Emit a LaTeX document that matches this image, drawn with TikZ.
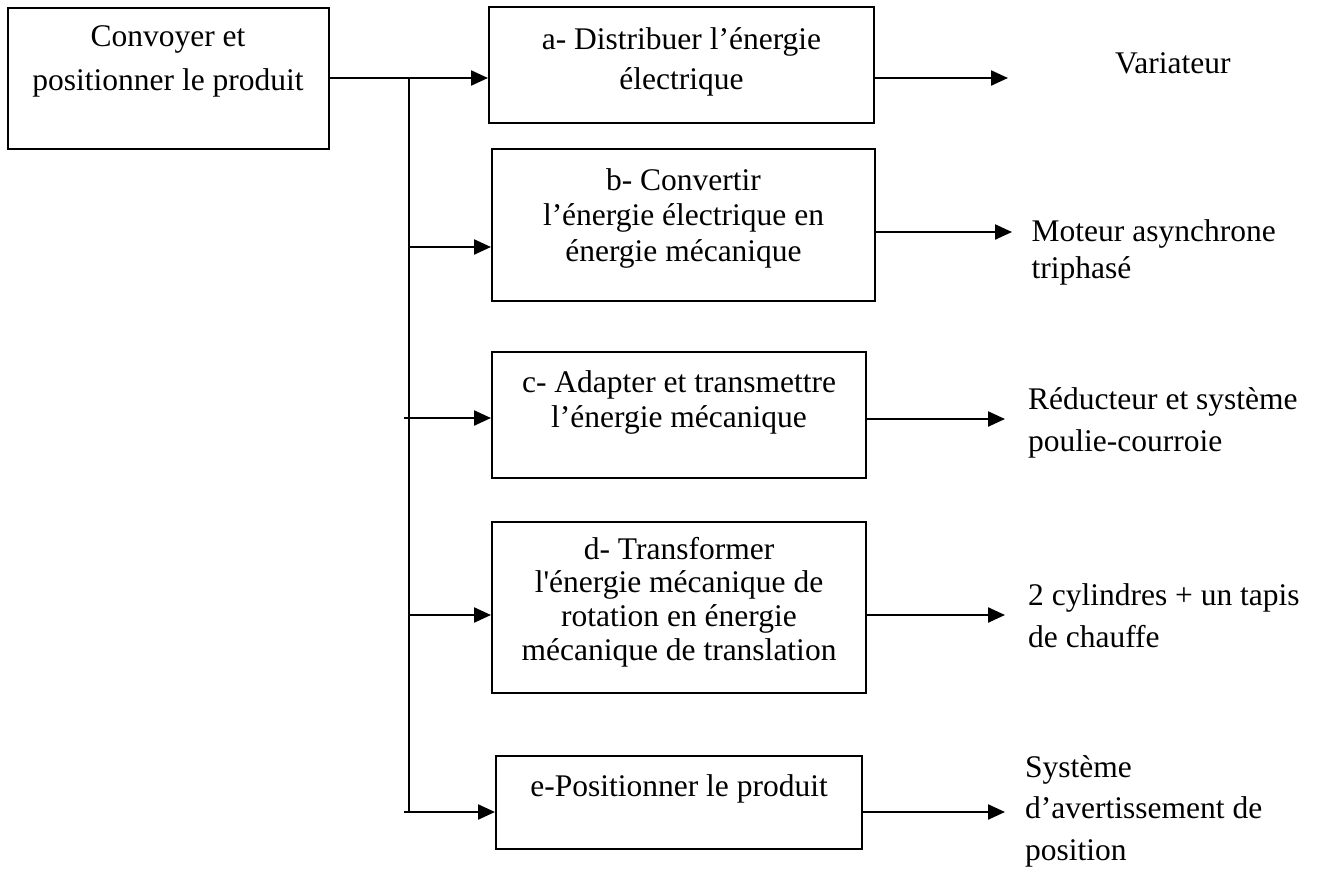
\documentclass[tikz,border=0pt]{standalone}
\usepackage{fontspec}
\setmainfont{Liberation Serif}
\usetikzlibrary{arrows.meta}

% stacked text lines: #1 = line pitch (pt), #2 = column alignment, #3 = lines
\newcommand\linesat[3]{{\fontsize{31.5pt}{#1pt}\selectfont\begin{tabular}[t]{@{}#2@{}}#3\end{tabular}}}

\tikzset{
  fbox/.style={draw, line width=2pt, rectangle, inner sep=0pt},
  txt/.style={inner sep=0pt, anchor=base},
  rtxt/.style={inner sep=0pt, anchor=base west},
  conn/.style={line width=2.3pt},
  arr/.style={line width=2.3pt, -{Triangle[length=17pt,width=15pt]}}
}

\begin{document}
\begin{tikzpicture}[x=1pt,y=-1pt]
\useasboundingbox (0,0) rectangle (1317,868);

% main function
\node[fbox, minimum width=321pt, minimum height=141pt] (L) at (168,78) {};
\node[txt] (Lt) at (168,46.7) {\linesat{44}{c}{Convoyer et\\positionner le produit}};

% sub-functions
\node[fbox, minimum width=385pt, minimum height=116pt] (a) at (681.5,65) {};
\node[txt] (at) at (681.5,49) {\linesat{40}{c}{a- Distribuer l’énergie\\électrique}};

\node[fbox, minimum width=383pt, minimum height=152pt] (b) at (683.5,225) {};
\node[txt] (bt) at (683.5,190.5) {\linesat{35.3}{c}{b- Convertir\\l’énergie électrique en\\énergie mécanique}};

\node[fbox, minimum width=374pt, minimum height=126pt] (c) at (679,415) {};
\node[txt] (ct) at (679,392.7) {\linesat{34.7}{c}{c- Adapter et transmettre\\l’énergie mécanique}};

\node[fbox, minimum width=374pt, minimum height=171pt] (d) at (679,607.5) {};
\node[txt] (dt) at (679,559.3) {\linesat{33.6}{c}{d- Transformer\\l\textquotesingle énergie mécanique de\\rotation en énergie\\mécanique de translation}};

\node[fbox, minimum width=366pt, minimum height=93pt] (e) at (679,802.5) {};
\node[txt] (et) at (679,796.7) {\linesat{36}{c}{e-Positionner le produit}};

% solutions
\node[rtxt] (sa) at (1115,73) {\linesat{36}{l}{Variateur}};
\node[rtxt] (sb) at (1031.5,241.7) {\linesat{36.5}{l}{Moteur asynchrone\\triphasé}};
\node[rtxt] (sc) at (1028,409.3) {\linesat{42}{l}{Réducteur et système\\poulie-courroie}};
\node[rtxt] (sd) at (1028,605) {\linesat{42}{l}{2 cylindres + un tapis\\de chauffe}};
\node[rtxt] (se) at (1025,777) {\linesat{41.5}{l}{Système\\d’avertissement de\\position}};

% distribution trunk
\coordinate (jt) at (409,78);
\coordinate (jb) at (409,247);
\coordinate (jc) at (404,418);
\coordinate (jd) at (409,615);
\coordinate (je) at (404,812);
\coordinate (jz) at (409,812);

\draw[arr] (L.east) -- (L.east -| a.west);
\draw[conn] (jt) -- (jz);
\draw[arr] (jb) -- (jb -| b.west);
\draw[arr] (jc) -- (jc -| c.west);
\draw[arr] (jd) -- (jd -| d.west);
\draw[arr] (je) -- (je -| e.west);

% outputs towards the solutions
\coordinate (oa) at (1008,78);
\coordinate (ob) at (1012,232);
\coordinate (oc) at (1005,419);
\coordinate (od) at (1005,615);
\coordinate (oe) at (1005,812);

\draw[arr] (oa -| a.east) -- (oa);
\draw[arr] (ob -| b.east) -- (ob);
\draw[arr] (oc -| c.east) -- (oc);
\draw[arr] (od -| d.east) -- (od);
\draw[arr] (oe -| e.east) -- (oe);
\end{tikzpicture}
\end{document}
